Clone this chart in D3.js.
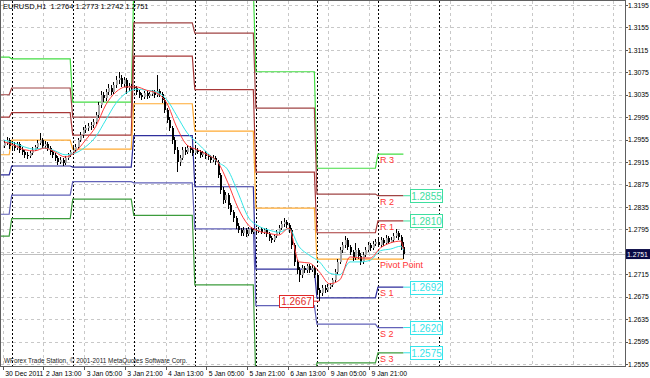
<!DOCTYPE html>
<html>
<head>
<meta charset="utf-8">
<script src="https://cdn.jsdelivr.net/npm/d3@7"></script>
<style>
  html, body { margin: 0; padding: 0; background: #fff; }
  svg { display: block; font-family: "Liberation Sans", Arial, sans-serif; }
  .grid line { stroke: #c8c8c8; stroke-dasharray: 3,3; shape-rendering: crispEdges; }
  .sep line { stroke: #000; stroke-dasharray: 2,2; shape-rendering: crispEdges; }
  .axis text { font-size: 6.8px; fill: #000; }
  .axis line { stroke: #555; shape-rendering: crispEdges; }
  .lvl { fill: none; stroke-width: 1.2; }
  .lvl-label { font-size: 9px; fill: #ff3333; }
  .val-box text { font-size: 10px; }
</style>
</head>
<body>
<svg id="chart"></svg>
<script>
// EURUSD H1, bar index 0 = 2 Jan 2012 00:00 (weekend collapsed)
const symbolTitle = 'EURUSD,H1  1.2764 1.2773 1.2742 1.2751';
const copyright = 'WForex Trade Station, \u00a9 2001-2011 MetaQuotes Software Corp.';

const firstBar = -3;
const opens = [
  1.2944,1.2949,1.2954,1.2944,1.2946,1.2940,1.2947,1.2937,1.2933,1.2928,
  1.2926,1.2931,1.2937,1.2942,1.2949,1.2954,1.2944,1.2947,1.2940,1.2933,
  1.2928,1.2922,1.2915,1.2919,1.2913,1.2922,1.2928,1.2933,1.2937,1.2942,
  1.2954,1.2963,1.2972,1.2976,1.2979,1.2981,1.2986,1.2999,1.3017,1.3035,
  1.3029,1.3040,1.3047,1.3040,1.3052,1.3061,1.3065,1.3054,1.3061,1.3047,
  1.3051,1.3049,1.3047,1.3040,1.3035,1.3031,1.3038,1.3033,1.3036,1.3040,
  1.3035,1.3042,1.3036,1.3026,1.3008,1.2990,1.2976,1.2954,1.2937,1.2915,
  1.2922,1.2937,1.2933,1.2940,1.2937,1.2931,1.2937,1.2933,1.2928,1.2931,
  1.2926,1.2924,1.2919,1.2922,1.2915,1.2892,1.2865,1.2847,1.2856,1.2838,
  1.2826,1.2815,1.2801,1.2794,1.2788,1.2794,1.2787,1.2796,1.2790,1.2794,
  1.2792,1.2796,1.2790,1.2794,1.2787,1.2780,1.2776,1.2783,1.2790,1.2797,
  1.2805,1.2808,1.2803,1.2794,1.2767,1.2737,1.2723,1.2714,1.2726,1.2723,
  1.2730,1.2723,1.2726,1.2714,1.2687,1.2682,1.2691,1.2687,1.2692,1.2696,
  1.2705,1.2719,1.2737,1.2758,1.2767,1.2776,1.2764,1.2755,1.2744,1.2758,
  1.2748,1.2737,1.2749,1.2758,1.2767,1.2762,1.2769,1.2773,1.2767,1.2776,
  1.2771,1.2780,1.2773,1.2776,1.2783,1.2788,1.2781,1.2764
];
const highs = [
  1.2955,1.2960,1.2958,1.2952,1.2950,1.2951,1.2950,1.2941,1.2936,1.2933,
  1.2935,1.2941,1.2946,1.2955,1.2966,1.2958,1.2952,1.2950,1.2943,1.2937,
  1.2931,1.2925,1.2924,1.2922,1.2926,1.2932,1.2937,1.2941,1.2947,1.2958,
  1.2968,1.2977,1.2981,1.2984,1.2987,1.2992,1.3004,1.3022,1.3042,1.3040,
  1.3046,1.3055,1.3052,1.3058,1.3068,1.3076,1.3070,1.3067,1.3064,1.3056,
  1.3055,1.3053,1.3050,1.3044,1.3039,1.3042,1.3041,1.3040,1.3044,1.3043,
  1.3070,1.3046,1.3040,1.3030,1.3012,1.2995,1.2980,1.2960,1.2941,1.2928,
  1.2942,1.2941,1.2945,1.2944,1.2940,1.2941,1.2940,1.2936,1.2935,1.2934,
  1.2930,1.2927,1.2927,1.2926,1.2919,1.2896,1.2870,1.2861,1.2860,1.2842,
  1.2830,1.2819,1.2806,1.2798,1.2799,1.2797,1.2800,1.2799,1.2798,1.2798,
  1.2800,1.2799,1.2798,1.2797,1.2790,1.2784,1.2787,1.2794,1.2802,1.2810,
  1.2815,1.2812,1.2807,1.2798,1.2771,1.2742,1.2728,1.2731,1.2730,1.2734,
  1.2733,1.2731,1.2729,1.2717,1.2691,1.2695,1.2695,1.2697,1.2700,1.2709,
  1.2724,1.2742,1.2763,1.2773,1.2783,1.2780,1.2768,1.2759,1.2770,1.2762,
  1.2752,1.2754,1.2763,1.2772,1.2771,1.2774,1.2778,1.2777,1.2781,1.2780,
  1.2785,1.2784,1.2781,1.2789,1.2796,1.2792,1.2785,1.2773
];
const lows = [
  1.2940,1.2945,1.2939,1.2938,1.2935,1.2937,1.2932,1.2928,1.2923,1.2920,
  1.2922,1.2928,1.2934,1.2939,1.2945,1.2940,1.2938,1.2935,1.2928,1.2922,
  1.2917,1.2909,1.2911,1.2908,1.2910,1.2918,1.2924,1.2929,1.2933,1.2938,
  1.2950,1.2958,1.2967,1.2970,1.2973,1.2976,1.2982,1.2994,1.3012,1.3022,
  1.3024,1.3035,1.3034,1.3036,1.3047,1.3055,1.3049,1.3048,1.3036,1.3042,
  1.3044,1.3041,1.3034,1.3029,1.3025,1.3027,1.3028,1.3029,1.3032,1.3030,
  1.3031,1.3031,1.3020,1.3002,1.2984,1.2970,1.2948,1.2930,1.2897,1.2908,
  1.2918,1.2928,1.2929,1.2932,1.2926,1.2927,1.2929,1.2923,1.2924,1.2921,
  1.2919,1.2914,1.2915,1.2910,1.2886,1.2858,1.2840,1.2842,1.2832,1.2820,
  1.2809,1.2795,1.2789,1.2783,1.2784,1.2782,1.2784,1.2786,1.2786,1.2788,
  1.2788,1.2786,1.2786,1.2782,1.2775,1.2771,1.2772,1.2779,1.2786,1.2793,
  1.2800,1.2798,1.2789,1.2760,1.2730,1.2716,1.2701,1.2709,1.2717,1.2718,
  1.2718,1.2719,1.2709,1.2680,1.2667,1.2677,1.2682,1.2683,1.2688,1.2692,
  1.2701,1.2715,1.2733,1.2752,1.2762,1.2759,1.2749,1.2738,1.2740,1.2742,
  1.2731,1.2733,1.2745,1.2754,1.2757,1.2758,1.2765,1.2763,1.2763,1.2766,
  1.2767,1.2769,1.2770,1.2772,1.2779,1.2776,1.2758,1.2742
];
const closes = [
  1.2949,1.2954,1.2944,1.2946,1.2940,1.2947,1.2937,1.2933,1.2928,1.2926,
  1.2931,1.2937,1.2942,1.2949,1.2954,1.2944,1.2947,1.2940,1.2933,1.2928,
  1.2922,1.2915,1.2919,1.2913,1.2922,1.2928,1.2933,1.2937,1.2942,1.2954,
  1.2963,1.2972,1.2976,1.2979,1.2981,1.2986,1.2999,1.3017,1.3035,1.3029,
  1.3040,1.3047,1.3040,1.3052,1.3061,1.3065,1.3054,1.3061,1.3047,1.3051,
  1.3049,1.3047,1.3040,1.3035,1.3031,1.3038,1.3033,1.3036,1.3040,1.3035,
  1.3042,1.3036,1.3026,1.3008,1.2990,1.2976,1.2954,1.2937,1.2915,1.2922,
  1.2937,1.2933,1.2940,1.2937,1.2931,1.2937,1.2933,1.2928,1.2931,1.2926,
  1.2924,1.2919,1.2922,1.2915,1.2892,1.2865,1.2847,1.2856,1.2838,1.2826,
  1.2815,1.2801,1.2794,1.2788,1.2794,1.2787,1.2796,1.2790,1.2794,1.2792,
  1.2796,1.2790,1.2794,1.2787,1.2780,1.2776,1.2783,1.2790,1.2797,1.2805,
  1.2808,1.2803,1.2794,1.2767,1.2737,1.2723,1.2714,1.2726,1.2723,1.2730,
  1.2723,1.2726,1.2714,1.2687,1.2682,1.2691,1.2687,1.2692,1.2696,1.2705,
  1.2719,1.2737,1.2758,1.2767,1.2776,1.2764,1.2755,1.2744,1.2758,1.2748,
  1.2737,1.2749,1.2758,1.2767,1.2762,1.2769,1.2773,1.2767,1.2776,1.2771,
  1.2780,1.2773,1.2776,1.2783,1.2788,1.2781,1.2764,1.2751
];

// moving averages, read every 4th bar
const maBars = [-3,1,5,9,13,17,21,25,29,33,37,41,45,49,53,57,61,65,69,73,
  77,81,85,89,93,97,101,105,109,113,117,121,125,129,133,137,141,145,149,153,154];
const maFast = [1.2951,1.2945,1.2937,1.2935,1.2940,1.2933,1.2924,1.2933,1.2954,1.2978,
  1.3017,1.3040,1.3049,1.3049,1.3043,1.3038,1.3020,1.2976,1.2945,1.2937,
  1.2928,1.2915,1.2878,1.2833,1.2803,1.2792,1.2788,1.2785,1.2797,1.2737,
  1.2735,1.2719,1.2698,1.2705,1.2746,1.2744,1.2744,1.2762,1.2771,1.2774,1.2760];
const maSlow = [1.2954,1.2949,1.2942,1.2938,1.2940,1.2935,1.2928,1.2931,1.2942,1.2960,
  1.2990,1.3020,1.3038,1.3045,1.3043,1.3040,1.3026,1.2997,1.2967,1.2949,
  1.2931,1.2915,1.2901,1.2860,1.2817,1.2801,1.2794,1.2790,1.2796,1.2764,
  1.2749,1.2737,1.2717,1.2714,1.2737,1.2737,1.2740,1.2757,1.2760,1.2765,1.2758];

// daily pivot levels: 30 Dec, 2, 3, 4, 5, 6, 9, 10 Jan
const dayStart = [-6, 0, 24, 48, 72, 96, 120, 144];
const dayEnd   = [-1, 23, 47, 71, 95, 119, 143, 154];
const levelNames = ['R 3', 'R 2', 'R 1', 'Pivot Point', 'S 1', 'S 2', 'S 3'];
const levelR3 = [1.3102, 1.3099, 1.3022, 1.3230, 1.3225, 1.3076, 1.2904, 1.2929];
const levelR2 = [1.3035, 1.3047, 1.2995, 1.3163, 1.3145, 1.3011, 1.2858, 1.2855];
const levelR1 = [1.2995, 1.3003, 1.2963, 1.3104, 1.3044, 1.2897, 1.2789, 1.2810];
const levelP  = [1.2928, 1.2954, 1.2938, 1.3019, 1.2970, 1.2833, 1.2742, 1.2742];
const levelS1 = [1.2892, 1.2908, 1.2906, 1.2962, 1.2871, 1.2724, 1.2673, 1.2692];
const levelS2 = [1.2822, 1.2856, 1.2880, 1.2878, 1.2796, 1.2659, 1.2626, 1.2620];
const levelS3 = [1.2783, 1.2814, 1.2849, 1.2820, 1.2696, 1.2520, 1.2557, 1.2575];
const levelColors = ['#44dd44', '#a04444', '#a83838', '#ffaa33', '#2e2e9c', '#6262b8', '#3c9c3c'];
const boxedLevels = ['R 2', 'R 1', 'S 1', 'S 2', 'S 3'];
const lowValue = 1.2667, lowBar = 121;
const currentPrice = 1.2751;

// axes
const priceTicks = [1.3195,1.3155,1.3115,1.3075,1.3035,1.2995,1.2955,1.2915,1.2875,
  1.2835,1.2795,1.2755,1.2715,1.2675,1.2635,1.2595,1.2555];
const timeTickBars = [-3, 13, 29, 45, 61, 77, 93, 109, 125, 141];
const timeTickLabels = ['30 Dec 2011','2 Jan 13:00','3 Jan 05:00','3 Jan 21:00','4 Jan 13:00',
  '5 Jan 05:00','5 Jan 21:00','6 Jan 13:00','9 Jan 05:00','9 Jan 21:00'];
const gridBars = [-3, 13, 29, 45, 61, 77, 93, 109, 125, 141, 157, 173, 189, 205, 221, 237];
const separatorBars = [0, 24, 48, 72, 96, 120, 144, 168];

const totalW = 650, totalH = 378;
const plotR = 625, plotB = 366;

const svg = d3.select('#chart').attr('width', totalW).attr('height', totalH);

const x = d3.scaleLinear().domain([0, 168]).range([11.7, 439]);
const y = d3.scaleLinear().domain([1.3195, 1.2555]).range([5, 364]);

svg.append('defs').append('clipPath').attr('id', 'clip')
  .append('rect').attr('x', 1).attr('y', 1).attr('width', plotR - 1).attr('height', plotB - 1);

// grid
const grid = svg.append('g').attr('class', 'grid');
priceTicks.forEach((p) => {
  const yy = Math.round(y(p)) + 0.5;
  grid.append('line').attr('x1', 1).attr('x2', plotR).attr('y1', yy).attr('y2', yy);
});
gridBars.forEach((b) => {
  const xx = Math.round(x(b) - 1.3) + 0.5;
  grid.append('line').attr('x1', xx).attr('x2', xx).attr('y1', 1).attr('y2', plotB);
});

// period separators
const sep = svg.append('g').attr('class', 'sep');
separatorBars.forEach((b) => {
  const xx = Math.round(x(b)) + 0.5;
  sep.append('line').attr('x1', xx).attr('x2', xx).attr('y1', 1).attr('y2', plotB);
});

// current price line
svg.append('line')
  .attr('x1', 1).attr('x2', plotR)
  .attr('y1', Math.round(y(currentPrice)) + 0.5).attr('y2', Math.round(y(currentPrice)) + 0.5)
  .attr('stroke', '#c0c0c0').attr('shape-rendering', 'crispEdges');

const plot = svg.append('g').attr('clip-path', 'url(#clip)');

// pivot levels
const levelSets = [levelR3, levelR2, levelR1, levelP, levelS1, levelS2, levelS3];
const stepLine = d3.line().x((d) => x(d.i)).y((d) => y(d.v));
levelSets.forEach((vals, k) => {
  const pts = [];
  vals.forEach((v, d) => {
    pts.push({ i: dayStart[d], v });
    pts.push({ i: dayEnd[d], v });
  });
  plot.append('path').datum(pts).attr('class', 'lvl')
    .attr('stroke', levelColors[k]).attr('d', stepLine);
});

// candles
const candles = plot.append('g');
opens.forEach((o, k) => {
  const c = closes[k];
  const cx = Math.round(x(firstBar + k));
  candles.append('line')
    .attr('x1', cx + 0.5).attr('x2', cx + 0.5)
    .attr('y1', y(highs[k])).attr('y2', y(lows[k]))
    .attr('stroke', '#000').attr('shape-rendering', 'crispEdges');
  const top = y(Math.max(o, c));
  const bot = y(Math.min(o, c));
  candles.append('rect')
    .attr('x', cx - 0.5).attr('y', top)
    .attr('width', 2).attr('height', Math.max(bot - top, 1))
    .attr('fill', c >= o ? '#a8a8a8' : '#000')
    .attr('shape-rendering', 'crispEdges');
});

// moving averages
const maLine = d3.line().x((d) => x(d.i)).y((d) => y(d.v)).curve(d3.curveMonotoneX);
plot.append('path').datum(maBars.map((i, k) => ({ i, v: maSlow[k] })))
  .attr('fill', 'none').attr('stroke', '#33e6e6').attr('stroke-width', 1).attr('d', maLine);
plot.append('path').datum(maBars.map((i, k) => ({ i, v: maFast[k] })))
  .attr('fill', 'none').attr('stroke', '#ff3b3b').attr('stroke-width', 1).attr('d', maLine);

// level labels for the current day
const lastDay = dayStart.length - 1;
const labelX = x(dayStart[lastDay]) + 2;
const boxX = 410, boxW = 32, boxH = 13;
levelSets.forEach((vals, k) => {
  const v = vals[lastDay];
  const name = levelNames[k];
  svg.append('text').attr('class', 'lvl-label')
    .attr('x', labelX).attr('y', y(v) + 9).text(name);
  if (boxedLevels.includes(name)) {
    const col = name[0] === 'R' ? '#3ede9e' : '#36e4ea';
    const vb = svg.append('g').attr('class', 'val-box');
    vb.append('line')
      .attr('x1', x(dayEnd[lastDay])).attr('x2', boxX)
      .attr('y1', y(v)).attr('y2', y(v)).attr('stroke', col);
    vb.append('rect')
      .attr('x', boxX + 0.5).attr('y', Math.round(y(v) - boxH / 2) + 0.5)
      .attr('width', boxW).attr('height', boxH)
      .attr('fill', '#fff').attr('stroke', col);
    vb.append('text')
      .attr('x', boxX + boxW / 2 + 0.5).attr('y', y(v) + 4)
      .attr('text-anchor', 'middle').attr('fill', col).text(v.toFixed(4));
  }
});

// day low marker
const lowG = svg.append('g').attr('class', 'val-box');
lowG.append('line')
  .attr('x1', 313).attr('x2', x(lowBar))
  .attr('y1', y(lowValue)).attr('y2', y(lowValue)).attr('stroke', '#e02828');
lowG.append('rect')
  .attr('x', 279.5).attr('y', Math.round(y(lowValue) - 6) + 0.5)
  .attr('width', 34).attr('height', 12)
  .attr('fill', '#fff').attr('stroke', '#e02828');
lowG.append('text')
  .attr('x', 296.5).attr('y', y(lowValue) + 4)
  .attr('text-anchor', 'middle').attr('fill', '#e02828').text(lowValue.toFixed(4));

// frame
svg.append('rect').attr('x', 0.5).attr('y', 0.5)
  .attr('width', plotR).attr('height', plotB)
  .attr('fill', 'none').attr('stroke', '#606060').attr('shape-rendering', 'crispEdges');

// price axis
const yAxis = d3.axisRight(y)
  .tickValues(priceTicks.filter((p) => Math.abs(p - currentPrice) > 0.001))
  .tickSize(2).tickPadding(0.5)
  .tickFormat(d3.format('.4f'));
svg.append('g').attr('class', 'axis')
  .attr('transform', `translate(${plotR + 0.5},0)`)
  .call(yAxis)
  .call((a) => a.select('.domain').remove());

// current price tag
const cy = y(currentPrice);
svg.append('rect').attr('x', plotR + 1).attr('y', cy - 5)
  .attr('width', 24).attr('height', 10).attr('fill', '#0a0a46');
svg.append('text').attr('x', plotR + 2).attr('y', cy + 2.5)
  .attr('font-size', 6.8).attr('fill', '#fff').text(currentPrice.toFixed(4));

// time axis
const xAxis = d3.axisBottom(x)
  .tickValues(timeTickBars)
  .tickSize(3).tickPadding(2)
  .tickFormat((d, i) => timeTickLabels[i]);
svg.append('g').attr('class', 'axis')
  .attr('transform', `translate(-1.3,${plotB + 0.5})`)
  .call(xAxis)
  .call((a) => a.select('.domain').remove())
  .call((a) => a.selectAll('text').attr('text-anchor', 'start').attr('dx', 2));

// captions
svg.append('text').attr('x', 3).attr('y', 9)
  .attr('font-size', 7.5).attr('fill', '#000').attr('xml:space', 'preserve')
  .text(symbolTitle);
svg.append('text').attr('x', 4).attr('y', 363)
  .attr('font-size', 6.4).attr('fill', '#222').text(copyright);
</script>
</body>
</html>
